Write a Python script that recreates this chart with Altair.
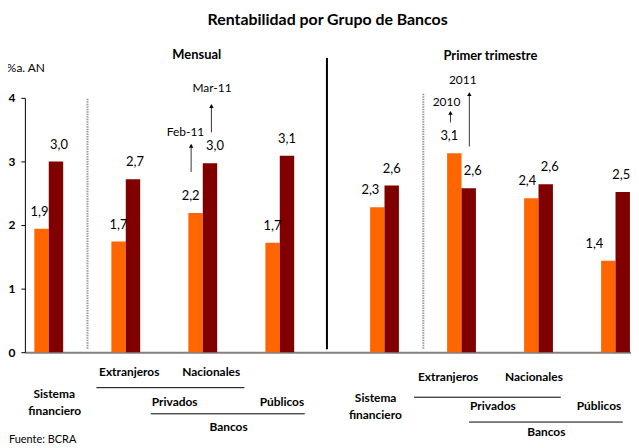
import altair as alt
import pandas as pd

# ---------------- data ----------------
categories = ["Sistema financiero", "Extranjeros", "Nacionales", "Públicos"]
panels = ["Mensual", "Primer trimestre"]
series_mensual = ["Feb-11", "Mar-11"]
series_trim = ["2010", "2011"]
mensual_feb11 = [1.94, 1.74, 2.19, 1.72]
mensual_mar11 = [3.00, 2.72, 2.97, 3.09]
trim_2010 = [2.28, 3.13, 2.42, 1.44]
trim_2011 = [2.62, 2.58, 2.64, 2.52]
y_ticks = [0, 1, 2, 3, 4]

title_text = "Rentabilidad por Grupo de Bancos"
y_unit_text = "%a. AN"
source_text = "Fuente: BCRA"

# ---------------- style / layout ----------------
ORANGE = "#FF6600"
DARK = "#800000"
FONT = "Lato"
AX_X, AX_TOP, AX_BOT, AX_RIGHT = 25, 97, 353, 635   # page pixels of the plot area
W = AX_RIGHT - AX_X
H = AX_BOT - AX_TOP
STEP = 77.5                      # px between groups
X_MAX = W / STEP
Y_MAX = 4
PX_PER_Y = H / Y_MAX
panel_start = {"Mensual": 0.31, "Primer trimestre": 4.67}
BAR = 14.5 / STEP
label_nudge = {  # px horizontal nudges of value labels
    ("Mensual", 0): [-2, 0, -5, 0], ("Mensual", 1): [3, 2, 5, 0],
    ("Primer trimestre", 0): [-7, -5, -4, -14], ("Primer trimestre", 1): [0, 4, 4, -1.5],
}


def ux(px):
    return (px - AX_X) / STEP


def uy(py):
    return (AX_BOT - py) / PX_PER_Y


# ---------------- bars ----------------
rows = []
for panel, names, vals in [
    ("Mensual", series_mensual, [mensual_feb11, mensual_mar11]),
    ("Primer trimestre", series_trim, [trim_2010, trim_2011]),
]:
    for s in range(2):
        for i, cat in enumerate(categories):
            c = panel_start[panel] + i
            x0 = c - BAR if s == 0 else c
            x1 = c if s == 0 else c + BAR
            v = vals[s][i]
            rows.append({
                "panel": panel, "category": cat, "series": names[s],
                "value": v, "base": 0, "x0": x0, "x1": x1,
                "lx": (x0 + x1) / 2 + label_nudge[(panel, s)][i] / STEP,
                "label": f"{v:.1f}".replace(".", ","),
            })
bars_df = pd.DataFrame(rows)

xscale = alt.Scale(domain=[0, X_MAX], nice=False, zero=False, padding=0)
yscale = alt.Scale(domain=[0, Y_MAX], nice=False, zero=True, padding=0)

bars = alt.Chart(bars_df).mark_bar().encode(
    x=alt.X("x0:Q", scale=xscale,
            axis=alt.Axis(title=None, grid=False, labels=False, ticks=False,
                          domainColor="#808080", domainWidth=2)),
    x2="x1:Q",
    y=alt.Y("value:Q", scale=yscale,
            axis=alt.Axis(values=y_ticks, format="d", title=None, grid=False,
                          domainColor="black", domainWidth=1, tickColor="black",
                          tickSize=4, labelFont=FONT, labelFontWeight="bold",
                          labelFontSize=12, labelColor="black", labelPadding=6)),
    y2="base:Q",
    color=alt.Color("series:N",
                    scale=alt.Scale(domain=series_mensual + series_trim,
                                    range=[ORANGE, DARK, ORANGE, DARK]),
                    legend=None),
)

value_labels = alt.Chart(bars_df).mark_text(
    font=FONT, fontSize=13, color="black", baseline="middle", align="center", dy=-17
).encode(x="lx:Q", y="value:Q", text="label:N")

# ---------------- annotations ----------------
def text_layer(items, size, weight, align="center"):
    df = pd.DataFrame([{"t": t, "x": ux(px), "y": uy(py)} for t, px, py in items])
    return alt.Chart(df).mark_text(
        font=FONT, fontSize=size, fontWeight=weight, color="black",
        baseline="middle", align=align
    ).encode(x="x:Q", y="y:Q", text="t:N")


title = text_layer([(title_text, 329.7, 18.5)], 16, "bold")
panel_titles = text_layer([(panels[0], 198, 54), (panels[1], 493.5, 54.5)], 13, "bold")
unit = text_layer([(y_unit_text, 26, 67.5)], 12, "normal")
source = text_layer([(source_text, 9, 441)], 11, "normal", align="left")
arrow_texts = text_layer([
    (series_mensual[0], 186.7, 131.7), (series_mensual[1], 213.3, 87),
    (series_trim[0], 449.3, 101), (series_trim[1], 465.7, 79),
], 12, "normal")
cat_texts = text_layer([
    ("Extranjeros", 130, 373), ("Nacionales", 212.5, 373),
    ("Sistema", 54.5, 395), ("financiero", 55, 411.7),
    ("Privados", 175.7, 403), ("Públicos", 283.7, 403), ("Bancos", 230, 428),
    ("Extranjeros", 451, 377.7), ("Nacionales", 537.3, 377.7),
    ("Sistema", 378, 399.3), ("financiero", 377.7, 416.3),
    ("Privados", 496, 406.7), ("Públicos", 602.8, 406.7), ("Bancos", 549.8, 433.7),
], 12, "bold")

# horizontal bracket lines under category labels
hl_df = pd.DataFrame([{"x": ux(a), "x2": ux(b), "y": uy(y)} for a, b, y in [
    (97, 246, 388.7), (151.7, 306.7, 415), (416.7, 564.3, 398.3), (472, 626.7, 423.3)]])
hlines = alt.Chart(hl_df).mark_rule(color="black", strokeWidth=1).encode(
    x="x:Q", x2="x2:Q", y="y:Q")

# panel separator and dotted separators
sep_df = pd.DataFrame([{"x": ux(329), "y": uy(57), "y2": uy(350)}])
sep = alt.Chart(sep_df).mark_rule(color="black", strokeWidth=2).encode(
    x="x:Q", y="y:Q", y2="y2:Q")
dot_df = pd.DataFrame([{"x": ux(88), "y": uy(98), "y2": uy(350)},
                       {"x": ux(426), "y": uy(93), "y2": uy(350)}])
dots = alt.Chart(dot_df).mark_rule(color="#9a9a9a", strokeWidth=2, strokeDash=[1.5, 1]).encode(
    x="x:Q", y="y:Q", y2="y2:Q")

# arrows
arrows = [(192.3, 171.7, 143), (212.7, 131.7, 103), (453.3, 121.7, 110), (472.3, 146, 91)]
ar_df = pd.DataFrame([{"x": ux(x), "y": uy(b), "y2": uy(t + 3), "yh": uy(t + 2.2)} for x, b, t in arrows])
ar_lines = alt.Chart(ar_df).mark_rule(color="#333333", strokeWidth=1).encode(
    x="x:Q", y="y:Q", y2="y2:Q")
ar_heads = alt.Chart(ar_df).mark_point(shape="triangle-up", filled=True, size=20,
                                       color="black", opacity=1).encode(x="x:Q", y="yh:Q")

chart = alt.layer(
    dots, sep, bars, value_labels, hlines, ar_lines, ar_heads,
    title, panel_titles, unit, source, arrow_texts, cat_texts,
).properties(
    width=W, height=H,
    autosize=alt.AutoSizeParams(type="none"),
    padding={"left": AX_X - 8, "top": AX_TOP - 8, "right": 0, "bottom": 440 - (AX_BOT - 8)},
    background="white",
).configure_view(stroke=None)

chart.save("out.html", embed_options={"renderer": "svg", "actions": False})
